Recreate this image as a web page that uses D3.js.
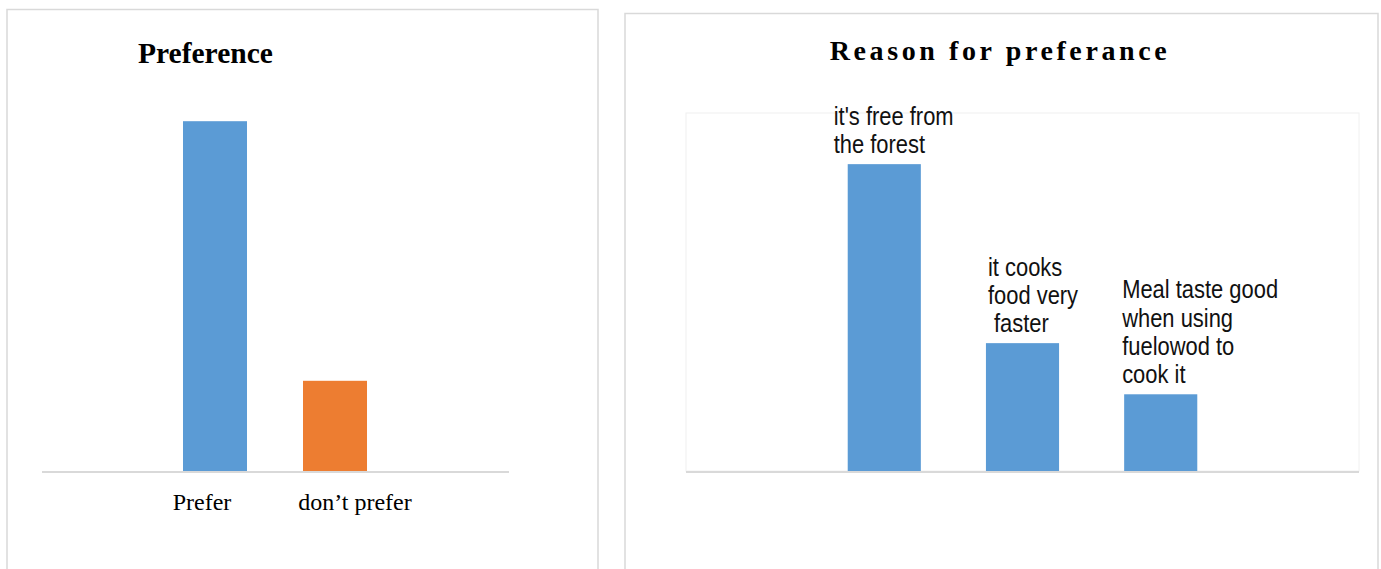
<!DOCTYPE html>
<html lang="en">
<head>
  <meta charset="UTF-8">
  <title>Preference charts</title>
  <script src="https://d3js.org/d3.v7.min.js"></script>
  <style>
    body { margin: 0; background: #fff; }
    svg { display: block; }
    .frame { fill: none; stroke: #d9d9d9; stroke-width: 1.5px; }
    .baseline { stroke: #d9d9d9; stroke-width: 2px; }
  </style>
</head>
<body>
<svg width="1381" height="569"></svg>

<script>
  // left chart
  const prefCategories = ["Prefer", "don\u2019t prefer"];
  const prefValues = [79.5, 20.5];
  const prefColors = ["#5b9bd5", "#ed7d31"];

  // right chart
  const reasonCategories = [
    "it's free from the forest",
    "it cooks food very faster",
    "Meal taste good when using fuelowod to cook it"
  ];
  const reasonLabelLines = [
    ["it's free from", "the forest"],
    ["it cooks", "food very", "\u00a0faster"],
    ["Meal taste good", "when using", "fuelowod to", "cook it"]
  ];
  const reasonValues = [60, 25, 15];

  const svg = d3.select("svg");

  // panel frames
  svg.append("rect").attr("class", "frame")
    .attr("x", 7).attr("y", 9.5).attr("width", 591).attr("height", 580);
  svg.append("rect").attr("class", "frame")
    .attr("x", 625).attr("y", 13.5).attr("width", 753).attr("height", 580);

  // ---------- Preference ----------
  const x1 = d3.scaleBand()
    .domain(prefCategories)
    .range([155, 395])
    .paddingInner(0.4667)
    .paddingOuter(0.2333);

  const y1 = d3.scaleLinear().domain([0, 100]).range([471, 31]);

  svg.append("text")
    .attr("x", 138).attr("y", 63)
    .style("font-family", "'Liberation Serif', 'Times New Roman', serif")
    .style("font-weight", "bold")
    .style("font-size", "29.5px")
    .text("Preference");

  svg.selectAll("rect.pref")
    .data(prefValues)
    .join("rect")
    .attr("class", "pref")
    .attr("x", (d, i) => x1(prefCategories[i]))
    .attr("width", x1.bandwidth())
    .attr("y", d => y1(d))
    .attr("height", d => y1(0) - y1(d))
    .attr("fill", (d, i) => prefColors[i]);

  svg.append("line").attr("class", "baseline")
    .attr("x1", 42).attr("x2", 509)
    .attr("y1", y1(0) + 1).attr("y2", y1(0) + 1);

  // labels sit a little off the bar centres in the original
  const labelShift = [-13, 20];
  svg.selectAll("text.pcat")
    .data(prefCategories)
    .join("text")
    .attr("class", "pcat")
    .attr("x", (d, i) => x1(d) + x1.bandwidth() / 2 + labelShift[i])
    .attr("y", 510)
    .attr("text-anchor", "middle")
    .style("font-family", "'Liberation Serif', 'Times New Roman', serif")
    .style("font-size", "24px")
    .text(d => d);

  // ---------- Reason for preferance ----------
  const x2 = d3.scaleBand()
    .domain(reasonCategories)
    .range([686, 1359])
    .paddingInner(0.471)
    .paddingOuter(1.17);

  const y2 = d3.scaleLinear().domain([0, 70]).range([471, 113]);

  svg.append("text")
    .attr("x", 1000).attr("y", 60)
    .attr("text-anchor", "middle")
    .style("font-family", "'Liberation Serif', 'Times New Roman', serif")
    .style("font-weight", "bold")
    .style("font-size", "28px")
    .style("letter-spacing", "3.6px")
    .text("Reason for preferance");

  // faint plot area outline
  svg.append("rect")
    .attr("x", 686).attr("y", 113)
    .attr("width", 673).attr("height", 358)
    .attr("fill", "none")
    .attr("stroke", "#f0f0f0");

  svg.selectAll("rect.reason")
    .data(reasonValues)
    .join("rect")
    .attr("class", "reason")
    .attr("x", (d, i) => x2(reasonCategories[i]))
    .attr("width", x2.bandwidth())
    .attr("y", d => y2(d))
    .attr("height", d => y2(0) - y2(d))
    .attr("fill", "#5b9bd5");

  svg.append("line").attr("class", "baseline")
    .attr("x1", 686).attr("x2", 1359)
    .attr("y1", y2(0) + 1).attr("y2", y2(0) + 1);

  // data labels above bars, squeezed horizontally like the narrow original font
  const labelDx = [-14, 2, -2];
  const lineH = 28.3;
  const squeeze = 0.86;
  reasonValues.forEach((v, i) => {
    const lines = reasonLabelLines[i];
    const lx = x2(reasonCategories[i]) + labelDx[i];
    const t = svg.append("text")
      .attr("transform", `translate(${lx},0) scale(${squeeze},1)`)
      .attr("y", y2(v) - 11 - lineH * (lines.length - 1))
      .style("font-family", "'Liberation Sans', Arial, sans-serif")
      .style("font-size", "25.5px")
      .style("fill", "#111");
    lines.forEach((ln, j) => {
      t.append("tspan")
        .attr("x", 0)
        .attr("dy", j === 0 ? 0 : lineH)
        .text(ln);
    });
  });
</script>
</body>
</html>
